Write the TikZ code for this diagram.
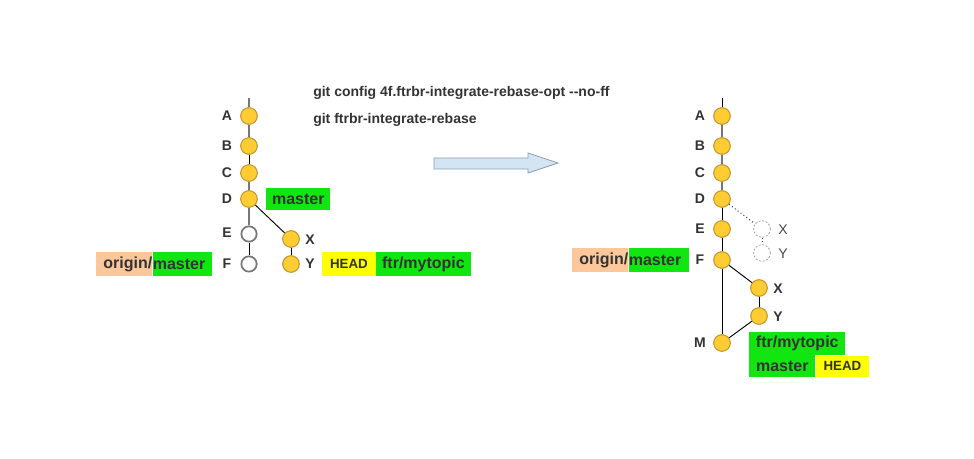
\documentclass[tikz,border=0pt]{standalone}
\usepackage{fontspec}
\setmainfont{Liberation Sans}
\definecolor{commitf}{HTML}{FFCC33}
\definecolor{commitb}{HTML}{C09A2E}
\definecolor{tagg}{HTML}{11E611}
\definecolor{tago}{HTML}{FBC79B}
\definecolor{tagy}{HTML}{FFFF00}
\definecolor{txt}{HTML}{333333}
\definecolor{arrowf}{HTML}{D3E5F3}
\definecolor{arrowd}{HTML}{8AA0B5}
\definecolor{lineg}{HTML}{777777}
\begin{document}
\begin{tikzpicture}[x=0.75pt,y=-0.75pt,
  font=\fontsize{10.5}{12}\selectfont\bfseries, text=txt,
  commit/.style={circle, fill=commitf, draw=commitb, line width=0.8pt, minimum size=12.5pt, inner sep=0pt},
  lost/.style={circle, fill=white, draw=lineg, line width=1.3pt, minimum size=11.5pt, inner sep=0pt},
  ghost/.style={circle, fill=white, draw=gray!85, dash pattern=on 1.5pt off 1.2pt, line width=0.5pt, minimum size=12.5pt, inner sep=0pt},
  glabel/.style={font=\fontsize{10.5}{12}\selectfont, text=txt!90},
  tagbox/.style={rectangle, inner sep=0pt, minimum height=18pt, anchor=west, font=\fontsize{12}{14}\selectfont\bfseries},
  greentag/.style={tagbox, fill=tagg},
  orangetag/.style={tagbox, fill=tago},
  yellowtag/.style={tagbox, fill=tagy, font=\fontsize{10}{12}\selectfont\bfseries},
  greyline/.style={draw=lineg, line width=1.1pt},
  blackline/.style={draw=black, line width=0.7pt},
  dotline/.style={draw=black!80, dotted, line width=0.7pt}]
\useasboundingbox (0,0) rectangle (974,459);

% command text
\node[anchor=west, inner sep=0pt] (cmd1) at (313,93) {git config 4f.ftrbr-integrate-rebase-opt -{}-no-ff};
\node[anchor=west, inner sep=0pt] (cmd2) at (313,120) {git ftrbr-integrate-rebase};

% block arrow
\draw[fill=arrowf, draw=arrowd, line width=0.6pt]
  (434,158) -- (528,158) -- (528,153) -- (558,163) -- (528,173) -- (528,169) -- (434,169) -- cycle;

% ---------- left graph ----------
\coordinate (ltop) at (249,98);
\node[commit] (lA) at (249,116) {};
\node[commit] (lB) at (249,146) {};
\node[commit] (lC) at (249,173) {};
\node[commit] (lD) at (249,199) {};
\node[lost] (lE) at (249,234) {};
\node[lost] (lF) at (249,264) {};
\node[commit] (lX) at (291,239) {};
\node[commit] (lY) at (291,264) {};

\draw[greyline] (ltop) -- (lA);
\draw[greyline] (lA) -- (lB);
\draw[blackline] (lB) -- (lC);
\draw[greyline] (lC) -- (lD);
\draw[greyline] (lD) -- (lE);
\draw[blackline] (lE) -- (lF);
\draw[blackline] (lD) -- (lX);
\draw[blackline] (lX) -- (lY);

\node (llA) at (227,116) {A};
\node (llB) at (227,146) {B};
\node (llC) at (227,173) {C};
\node (llD) at (227,199) {D};
\node (llE) at (227,233) {E};
\node (llF) at (227,264) {F};
\node (llX) at (310,240) {X};
\node (llY) at (310,264) {Y};

\node[greentag, text width=48pt, align=center, minimum height=16.5pt] (lmaster) at (266,199) {master};
\node[orangetag, text width=42pt, align=right] (lorig) at (96,264.5) {origin/};
\node[greentag, text width=44.25pt, align=left] (lorigm) at (lorig.east) {master};
\node[yellowtag, text width=40pt, align=center] (lhead) at (322,264) {HEAD};
\node[greentag, text width=71pt, align=center] (lftr) at (lhead.east) {ftr/mytopic};

% ---------- right graph ----------
\coordinate (rtop) at (722,98);
\node[commit] (rA) at (722,116) {};
\node[commit] (rB) at (722,146) {};
\node[commit] (rC) at (722,173) {};
\node[commit] (rD) at (722,199) {};
\node[commit] (rE) at (722,229) {};
\node[commit] (rF) at (722,260) {};
\node[commit] (rM) at (722,343) {};
\node[commit] (rX) at (759,288) {};
\node[commit] (rY) at (759,316) {};
\node[ghost] (gX) at (762,229) {};
\node[ghost] (gY) at (762,253) {};

\draw[blackline] (rtop) -- (rA);
\draw[greyline] (rA) -- (rB);
\draw[greyline] (rB) -- (rC);
\draw[greyline] (rC) -- (rD);
\draw[blackline] (rD) -- (rE);
\draw[blackline] (rE) -- (rF);
\draw[blackline] (rF) -- (rM);
\draw[blackline] (rF) -- (rX);
\draw[blackline] (rX) -- (rY);
\draw[blackline] (rY) -- (rM);
\draw[dotline] (rD) -- (gX);
\draw[dotline] (gX) -- (gY);

\node (rlA) at (700,116) {A};
\node (rlB) at (700,146) {B};
\node (rlC) at (700,173) {C};
\node (rlD) at (700,199) {D};
\node (rlE) at (700,229) {E};
\node (rlF) at (700,260) {F};
\node (rlM) at (700,343) {M};
\node (rlX) at (778,289) {X};
\node (rlY) at (778,317) {Y};
\node[glabel] (glX) at (783,230) {X};
\node[glabel] (glY) at (783,254) {Y};

\node[orangetag, text width=42pt, align=right] (rorig) at (572,260.5) {origin/};
\node[greentag, text width=45pt, align=left] (rorigm) at (rorig.east) {master};
\node[greentag, text width=72pt, align=center, minimum height=17pt, anchor=north west] (rftr) at (749,332) {ftr/mytopic};
\node[greentag, text width=49.5pt, align=center, minimum height=16.5pt, anchor=north west] (rmaster) at (749,355) {master};
\node[yellowtag, text width=40pt, align=center, minimum height=16pt] (rhead) at (rmaster.east) {HEAD};
\end{tikzpicture}
\end{document}
